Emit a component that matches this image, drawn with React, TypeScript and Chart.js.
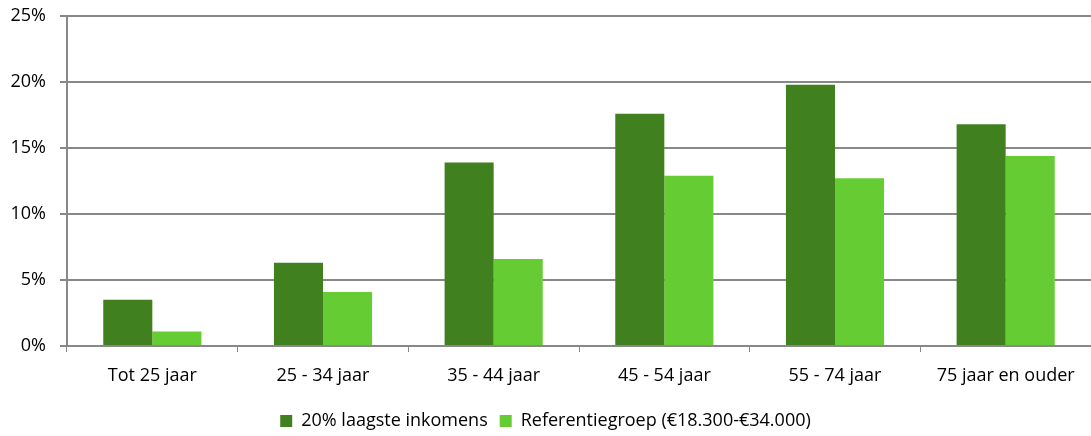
import React, { useEffect, useRef } from "react";
import { Chart, registerables } from "chart.js";

Chart.register(...registerables);

const categories = ["Tot 25 jaar", "25 - 34 jaar", "35 - 44 jaar", "45 - 54 jaar", "55 - 74 jaar", "75 jaar en ouder"];
const laagsteInkomens = [3.5, 6.3, 13.9, 17.6, 19.8, 16.8];
const referentiegroep = [1.1, 4.1, 6.6, 12.9, 12.7, 14.4];
const seriesNames = ["20% laagste inkomens", "Referentiegroep (€18.300-€34.000)"];

const FONT = "'Open Sans', sans-serif";

export default function App() {
  const ref = useRef<HTMLCanvasElement>(null);
  useEffect(() => {
    if (!ref.current) return;
    const chart = new Chart(ref.current, {
      type: "bar",
      data: {
        labels: categories,
        datasets: [
          { label: seriesNames[0], data: laagsteInkomens, backgroundColor: "#41801F", categoryPercentage: 0.575, barPercentage: 1 },
          { label: seriesNames[1], data: referentiegroep, backgroundColor: "#66CC33", categoryPercentage: 0.575, barPercentage: 1 },
        ],
      },
      options: {
        responsive: false,
        animation: false,
        layout: { padding: { top: 16, right: 0, left: 0, bottom: -4 } },
        plugins: {
          tooltip: { enabled: false },
          legend: {
            position: "bottom",
            labels: {
              font: { family: FONT, size: 18 },
              color: "#000",
              boxWidth: 12,
              boxHeight: 12,
              padding: 12,
            },
          },
        },
        scales: {
          x: {
            grid: { drawOnChartArea: false, drawTicks: true, tickLength: 6, color: "#888", offset: true },
            border: { color: "#888", width: 2 },
            ticks: { font: { family: FONT, size: 18 }, color: "#000", padding: 13 },
            afterFit: (s: any) => { s.height = 54; },
          },
          y: {
            min: 0,
            max: 25,
            grid: { color: "#888", lineWidth: 2, tickLength: 7 },
            border: { color: "#888", width: 2 },
            ticks: {
              stepSize: 5,
              font: { family: FONT, size: 18 },
              color: "#000",
              padding: 14,
              callback: (v: any) => v + "%",
            },
            afterFit: (s: any) => { s.width = 67; s.paddingTop = 0; s.paddingBottom = 0; },
          },
        },
      },
    });
    return () => chart.destroy();
  }, []);
  return (
    <div style={{ position: "absolute", left: 0, top: 0, width: 1091, height: 436, background: "#fff" }}>
      <canvas ref={ref} width={1091} height={436} />
    </div>
  );
}
